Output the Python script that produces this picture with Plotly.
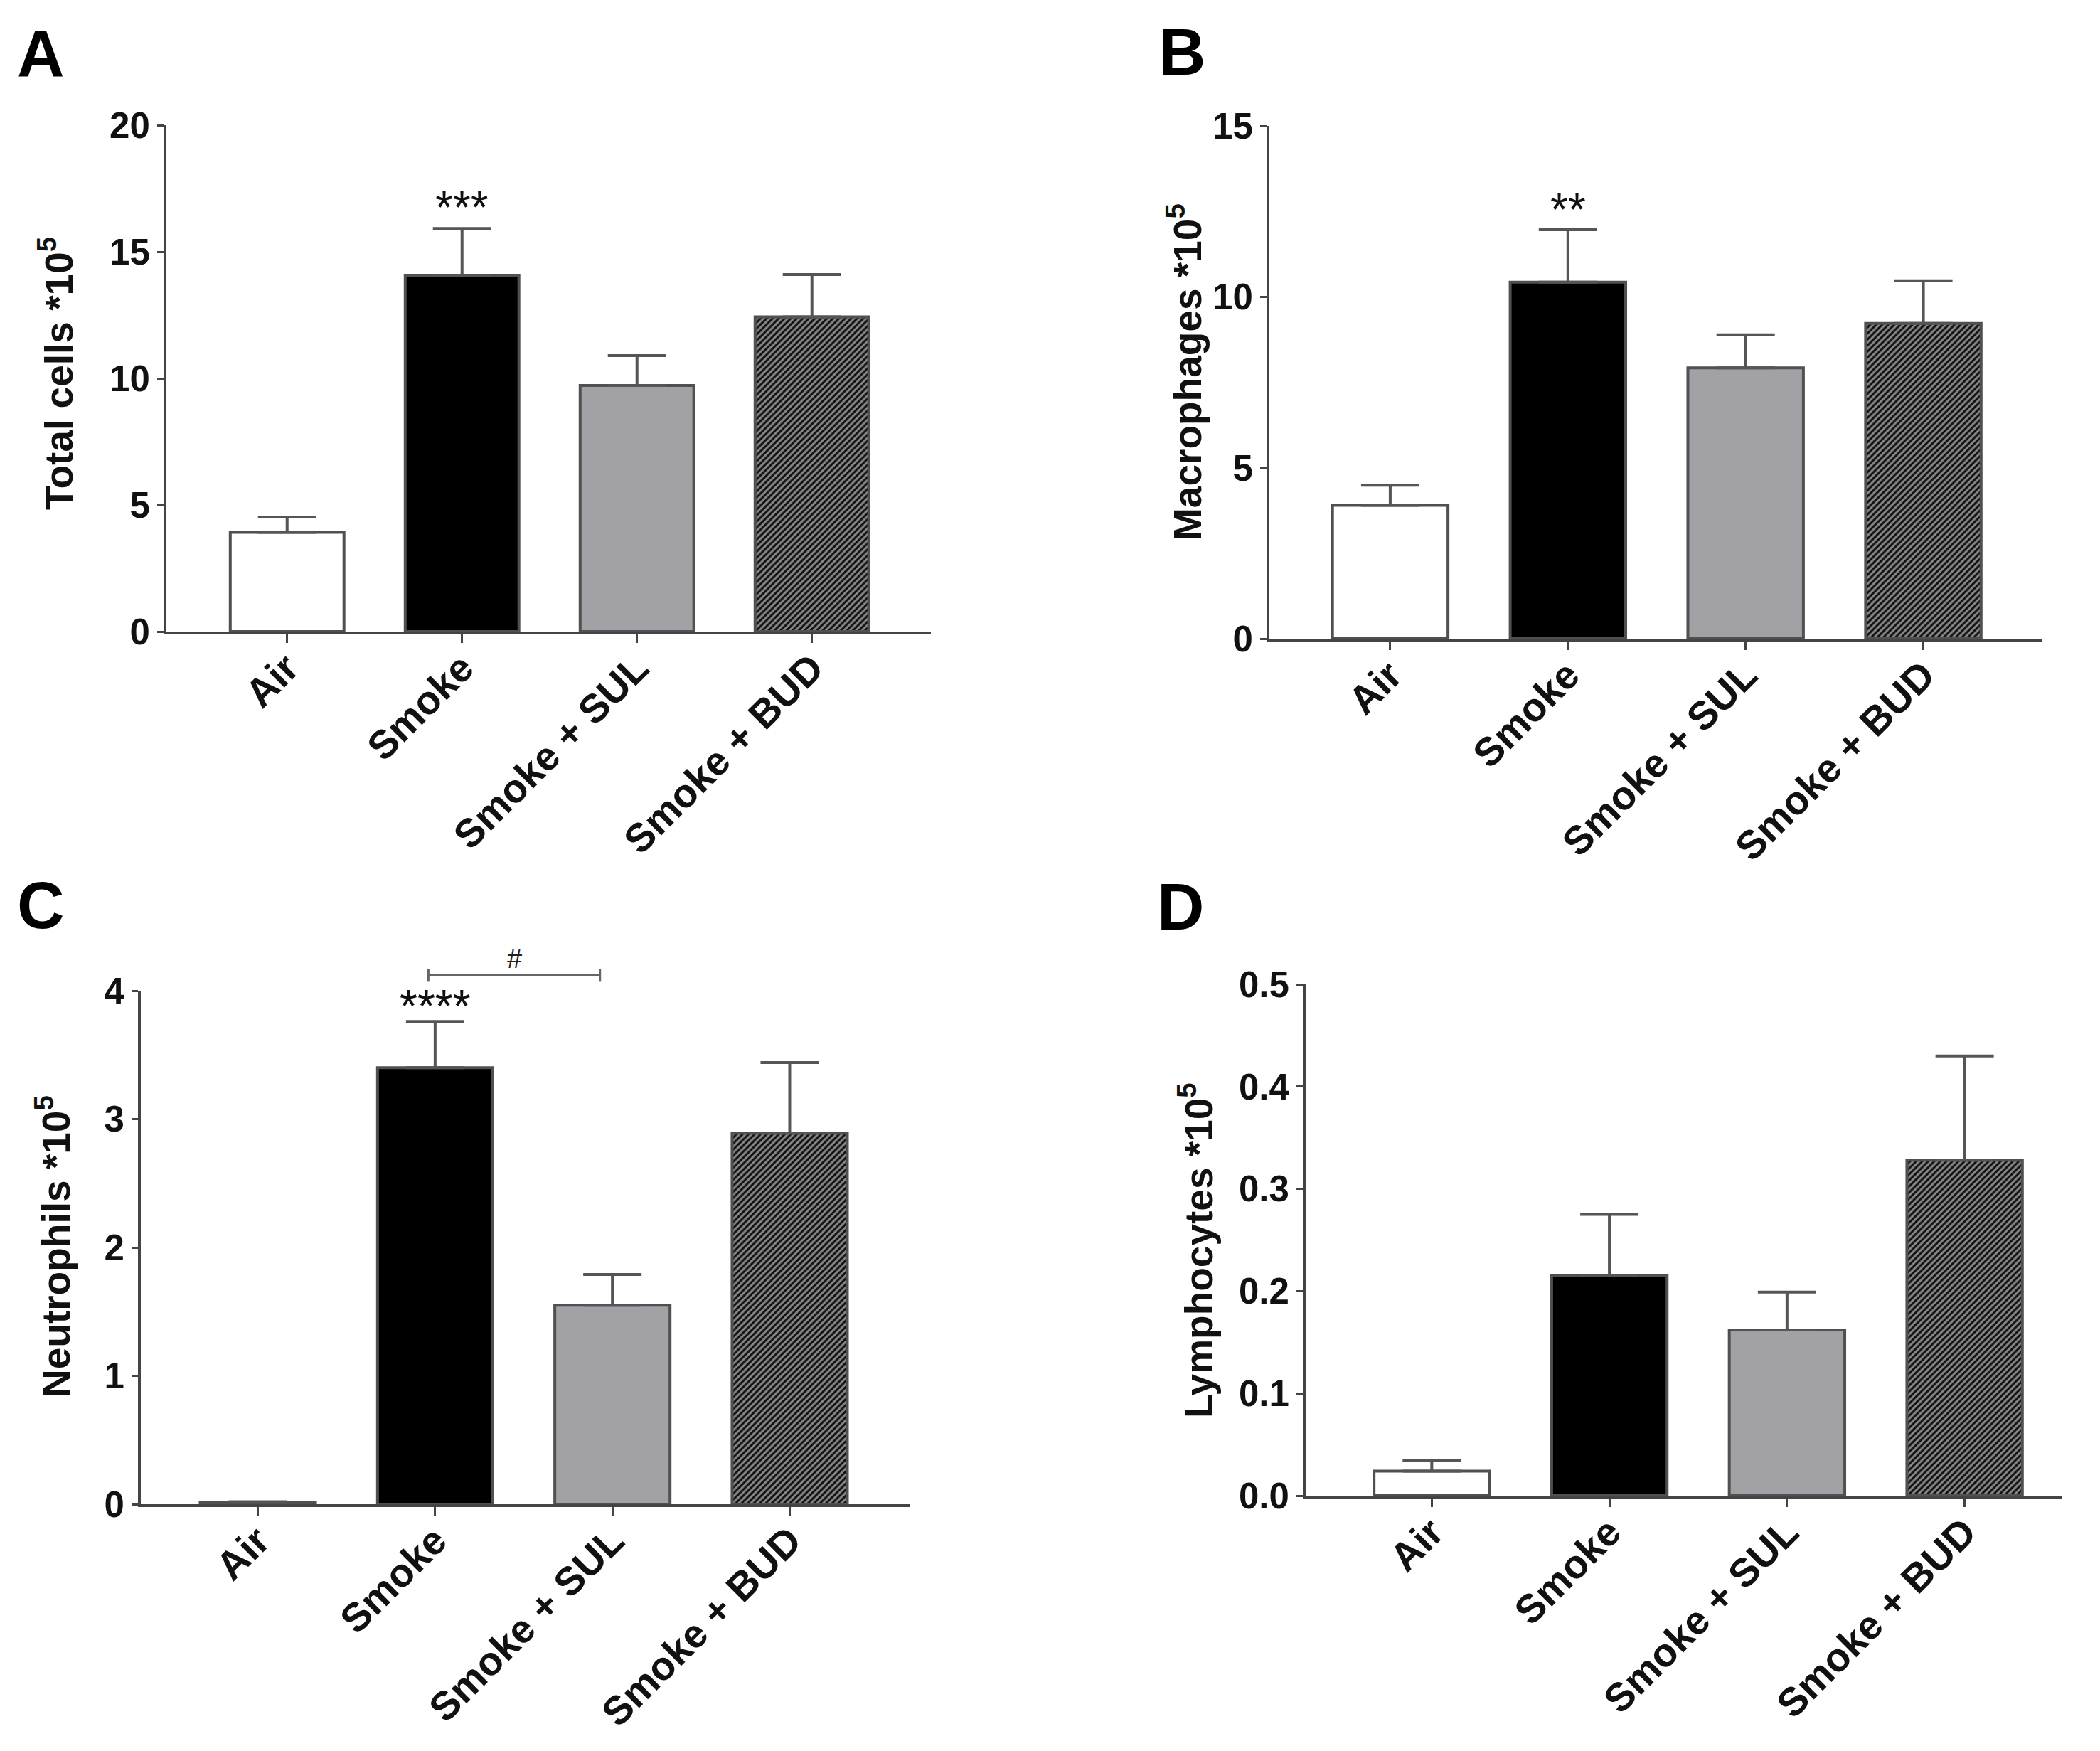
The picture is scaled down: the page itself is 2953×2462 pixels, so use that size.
import plotly.graph_objects as go

W, H = 2953, 2462

groups = ["Air", "Smoke", "Smoke + SUL", "Smoke + BUD"]

total_cells = [3.92, 14.07, 9.72, 12.43]
total_cells_sem = [0.60, 1.85, 1.18, 1.67]
macrophages = [3.90, 10.43, 7.92, 9.22]
macrophages_sem = [0.59, 1.53, 0.97, 1.25]
neutrophils = [0.015, 3.40, 1.55, 2.89]
neutrophils_sem = [0.005, 0.36, 0.24, 0.55]
lymphocytes = [0.024, 0.215, 0.162, 0.328]
lymphocytes_sem = [0.010, 0.060, 0.037, 0.102]

bar_colors = ["#ffffff", "#000000", "#a2a2a6", "#111111"]
bar_patterns = ["", "", "", "/"]

# significance marks (category, y value, text)
stars_a = ("Smoke", 16.75, "***")
stars_b = ("Smoke", 12.55, "**")
stars_c = ("Smoke", 3.88, "****")
# bracket Smoke vs Smoke + SUL in panel C
bracket_c = dict(x0=0.962, x1=1.93, y=4.12, label="#", label_y=4.25)

AX = "#444444"
FONT = "Liberation Sans, Arial, sans-serif"

# pixel boxes of the four plot areas (left, right, top, bottom)
panels = [
    dict(letter="A", title="Total cells *10<sup>5</sup>", vals=total_cells, sem=total_cells_sem,
         ymax=20, dtick=5, fmt="", box=(234, 1309, 176, 888), xr=[-0.69, 3.68],
         tpos=(79, 525), lpos=(22, 22), stars=stars_a),
    dict(letter="B", title="Macrophages *10<sup>5</sup>", vals=macrophages, sem=macrophages_sem,
         ymax=15, dtick=5, fmt="", box=(1785, 2872, 177, 898), xr=[-0.68, 3.67],
         tpos=(1666, 523), lpos=(1627, 20), stars=stars_b),
    dict(letter="C", title="Neutrophils *10<sup>5</sup>", vals=neutrophils, sem=neutrophils_sem,
         ymax=4, dtick=1, fmt="", box=(198, 1280, 1393, 2115), xr=[-0.66, 3.68],
         tpos=(75, 1753), lpos=(22, 1220), stars=stars_c),
    dict(letter="D", title="Lymphocytes *10<sup>5</sup>", vals=lymphocytes, sem=lymphocytes_sem,
         ymax=0.5, dtick=0.1, fmt=".1f", box=(1836, 2900, 1384, 2103), xr=[-0.71, 3.55],
         tpos=(1682, 1758), lpos=(1625, 1222), stars=None),
]

fig = go.Figure()
layout = {}
annotations = []
shapes = []

for i, p in enumerate(panels, start=1):
    xa = "x" if i == 1 else f"x{i}"
    ya = "y" if i == 1 else f"y{i}"
    xkey = "xaxis" if i == 1 else f"xaxis{i}"
    ykey = "yaxis" if i == 1 else f"yaxis{i}"
    left, right, top, bottom = p["box"]

    fig.add_trace(go.Bar(
        x=groups, y=p["vals"], xaxis=xa, yaxis=ya, width=0.65, showlegend=False,
        marker=dict(color=bar_colors, line=dict(color="#505050", width=4),
                    pattern=dict(shape=bar_patterns, fgcolor="#a8a8a8", size=6,
                                 solidity=0.5, fillmode="overlay")),
        error_y=dict(type="data", symmetric=False, array=p["sem"], arrayminus=[0] * 4,
                     color="#555555", thickness=4, width=41),
    ))

    layout[xkey] = dict(
        domain=[left / W, right / W], anchor=ya, range=p["xr"], type="category",
        showline=True, linecolor=AX, linewidth=4, ticks="outside", ticklen=12,
        tickwidth=3, tickcolor=AX, tickangle=-45, showgrid=False, zeroline=False,
        automargin=False, ticklabelstandoff=-20,
        tickfont=dict(size=56, color="#111111", family=FONT, weight="bold"),
    )
    layout[ykey] = dict(
        domain=[1 - bottom / H, 1 - top / H], anchor=xa, range=[0, p["ymax"]],
        dtick=p["dtick"], tick0=0, tickformat=p["fmt"], showline=True, linecolor=AX,
        linewidth=4, ticks="outside", ticklen=9, tickwidth=3, tickcolor=AX,
        showgrid=False, zeroline=False, automargin=False,
        tickfont=dict(size=51, color="#111111", family=FONT, weight="bold"),
    )

    annotations.append(dict(
        text=p["title"], xref="paper", yref="paper", x=p["tpos"][0] / W, y=1 - p["tpos"][1] / H,
        textangle=-90, showarrow=False, xanchor="center", yanchor="middle",
        font=dict(size=55, color="#111111", family=FONT, weight="bold"),
    ))
    annotations.append(dict(
        text=p["letter"], xref="paper", yref="paper", x=p["lpos"][0] / W, y=1 - p["lpos"][1] / H,
        showarrow=False, xanchor="left", yanchor="top",
        font=dict(size=92, color="#000000", family=FONT, weight="bold"),
    ))
    if p["stars"]:
        cat, yv, txt = p["stars"]
        annotations.append(dict(
            text=txt, xref=xa, yref=ya, x=cat, y=yv, showarrow=False,
            xanchor="center", yanchor="middle",
            font=dict(size=64, color="#111111", family=FONT, weight="normal"),
        ))

# bracket in panel C (x in category units, y relative to the axis range)
ymax_c = panels[2]["ymax"]
b = bracket_c
line_style = dict(color="#666666", width=3)
shapes.append(dict(type="line", xref="x3", yref="y3 domain", x0=b["x0"], x1=b["x1"],
                   y0=b["y"] / ymax_c, y1=b["y"] / ymax_c, line=line_style))
for xe in (b["x0"], b["x1"]):
    shapes.append(dict(type="line", xref="x3", yref="y3 domain", x0=xe, x1=xe,
                       y0=(b["y"] - 0.05) / ymax_c, y1=(b["y"] + 0.05) / ymax_c, line=line_style))
annotations.append(dict(
    text=b["label"], xref="x3", yref="y3 domain", x=(b["x0"] + b["x1"]) / 2,
    y=b["label_y"] / ymax_c, showarrow=False, xanchor="center", yanchor="middle",
    font=dict(size=38, color="#222222", family=FONT, weight="normal"),
))

fig.update_layout(
    **layout,
    width=W, height=H, margin=dict(l=0, r=0, t=0, b=0),
    paper_bgcolor="white", plot_bgcolor="white",
    font=dict(family=FONT, color="#111111"),
    annotations=annotations, shapes=shapes, bargap=0.35,
)

fig.write_html("out.html", config={"displayModeBar": False},
               post_script="document.body.style.margin='0';")
